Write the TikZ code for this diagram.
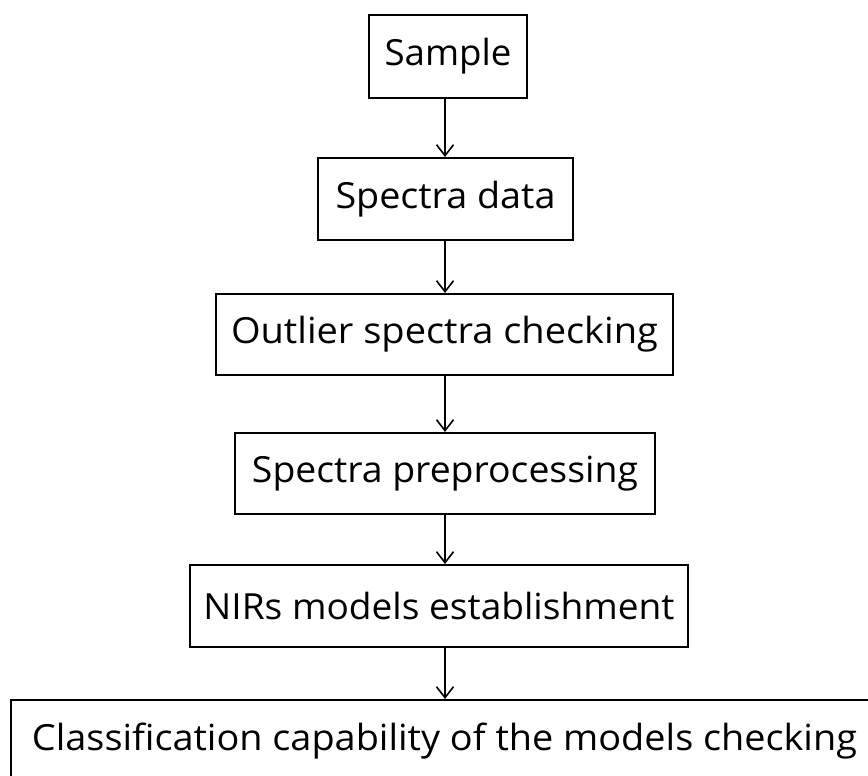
\documentclass[tikz,border=0pt]{standalone}
\usepackage{fontspec}
\usepackage{graphicx}
\setmainfont{Open Sans}
\usetikzlibrary{arrows.meta}
\newcommand{\fitw}[2]{\resizebox{#1}{\height}{#2}}
\tikzset{
  stepbox/.style={draw=black, line width=2pt, rectangle, inner sep=0pt, font=\fontsize{36pt}{40pt}\selectfont},
  arr/.style={line width=1.7pt, -{Straight Barb[length=11pt, width=17pt, line width=1.6pt]}}
}
\begin{document}
\begin{tikzpicture}[x=1pt, y=-1pt]
\clip (0,0) rectangle (868,776);
\fill[white] (0,0) rectangle (868,776);
\coordinate (colx) at (445,0);
\node[stepbox, minimum width=158pt, minimum height=83pt] (s1) at (448,56.5) {\fitw{127pt}{Sample}};
\node[stepbox, minimum width=255pt, minimum height=82pt] (s2) at (445.5,199) {\fitw{220pt}{Spectra data}};
\node[stepbox, minimum width=457pt, minimum height=81pt] (s3) at (444.5,334.5) {\fitw{427pt}{Outlier spectra checking}};
\node[stepbox, minimum width=420pt, minimum height=81pt] (s4) at (445,473.5) {\fitw{386pt}{Spectra preprocessing}};
\node[stepbox, minimum width=498pt, minimum height=82pt] (s5) at (439,606) {\fitw{471pt}{NIRs models establishment}};
\node[stepbox, minimum width=867pt, minimum height=82pt] (s6) at (444.5,741) {\fitw{825pt}{Classification capability of the models checking}};
\draw[arr] (s1.south -| colx) -- (s2.north -| colx);
\draw[arr] (s2.south -| colx) -- (s3.north -| colx);
\draw[arr] (s3.south -| colx) -- (s4.north -| colx);
\draw[arr] (s4.south -| colx) -- (s5.north -| colx);
\draw[arr] (s5.south -| colx) -- (s6.north -| colx);
\end{tikzpicture}
\end{document}
